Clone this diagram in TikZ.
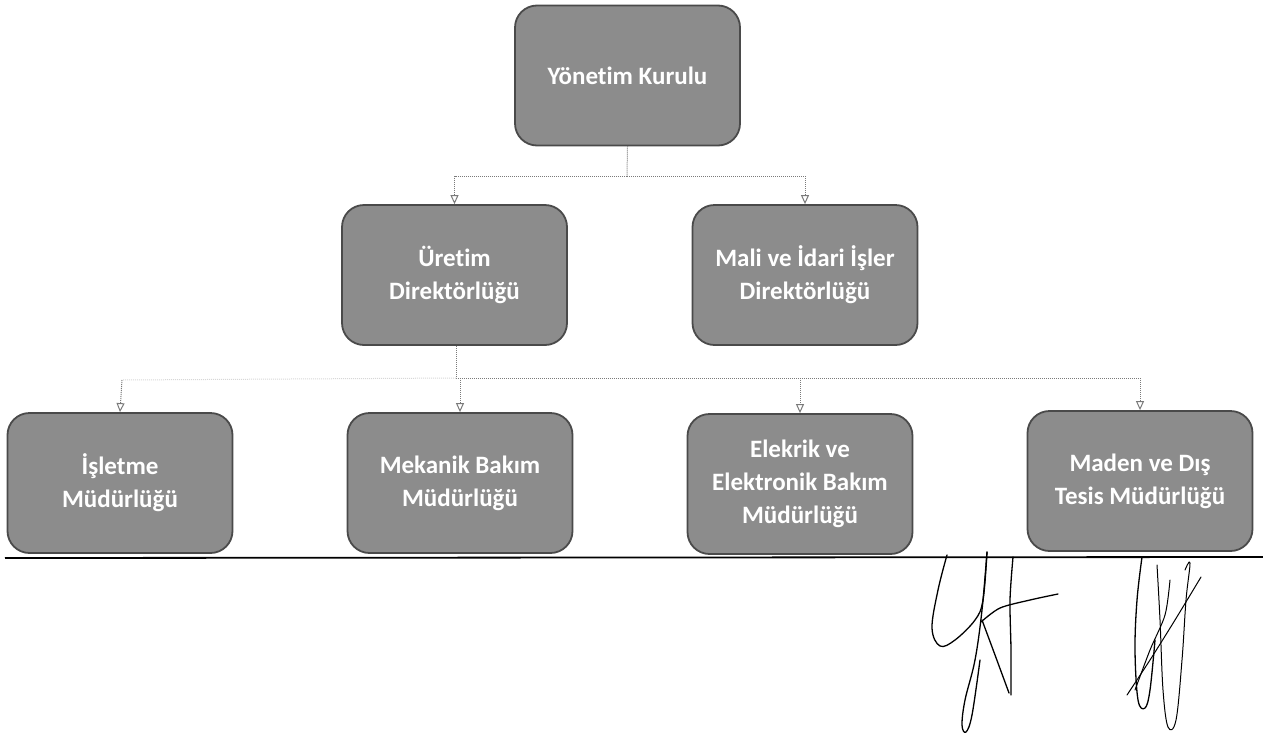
\documentclass[tikz,border=0pt]{standalone}
\usepackage{fontspec}
\setmainfont{Carlito}[Ligatures=CommonOff]
\usetikzlibrary{arrows.meta}
\definecolor{boxfill}{HTML}{8C8C8C}
\definecolor{boxline}{HTML}{4A4A4A}
\definecolor{conn}{HTML}{7A7A7A}
\tikzset{
  orgbox/.style={draw=boxline, line width=1.8pt, fill=boxfill, rounded corners=22pt,
    minimum width=225pt, minimum height=140pt, text=white, align=center,
    font=\fontsize{25}{33}\selectfont\bfseries, inner sep=4pt},
  link/.style={draw=conn, densely dotted, line width=1pt},
  arr/.style={link, -{Triangle[open, length=9pt, width=8pt]}},
  sig/.style={draw=black, line width=1.3pt, line cap=round, line join=round}
}
\begin{document}
\begin{tikzpicture}[x=1pt,y=-1pt]
\useasboundingbox (0,0) rectangle (1263,734);
\node[orgbox] (yk) at (627.5,75.5) {Yönetim Kurulu};
\node[orgbox] (ur) at (454.5,275) {Üretim\\Direktörlüğü};
\node[orgbox] (mi) at (805,275) {Mali ve İdari İşler\\Direktörlüğü};
\node[orgbox] (is) at (120,483) {İşletme\\Müdürlüğü};
\node[orgbox] (me) at (460,483) {Mekanik Bakım\\Müdürlüğü};
\node[orgbox] (el) at (800,484) {Elekrik ve\\Elektronik Bakım\\Müdürlüğü};
\node[orgbox] (ma) at (1140,481) {Maden ve Dış\\Tesis Müdürlüğü};
% level 1 connectors
\coordinate (b1) at (627,176);
\draw[link] (yk.south) -- (b1);
\draw[arr] (b1) -| (ur.north);
\draw[arr] (b1) -| (mi.north);
% level 2 connectors
\coordinate (b2) at (456,378);
\draw[link] (ur.south -| b2) -- (b2);
\draw[arr] (b2) -| (me.north);
\draw[arr] (b2) -| (el.north);
\draw[arr] (b2) -| (ma.north);
\coordinate (b3) at (122,380);
\draw[link, draw=conn!30] (b2) -- (b3);
\draw[arr] (b3) -- (is.north);
% base line
\coordinate (l1) at (5,558);
\coordinate (l2) at (1263,557);
\draw[black, line width=1.8pt] (l1) -- (l2);
% signatures
\draw[sig] plot[smooth, tension=0.6] coordinates {(947,555) (938,590) (932,628) (940,646) (955,640) (975,620) (983,600) (987,552)};
\draw[sig] plot[smooth, tension=0.6] coordinates {(987,552) (982,610) (975,660) (965,700) (962,725) (966,732) (972,715) (980,660)};
\draw[sig] plot[smooth, tension=0.5] coordinates {(1013,557) (1010,600) (1011,650) (1011,695)};
\draw[sig] plot[smooth, tension=0.5] coordinates {(982,620) (995,655) (1009,693)};
\draw[sig] plot[smooth, tension=0.5] coordinates {(981,622) (1000,608) (1030,600) (1058,594)};
\draw[sig] plot[smooth, tension=0.6] coordinates {(1142,557) (1137,600) (1135,650) (1138,700) (1145,708) (1150,690) (1155,640)};
\draw[sig, line width=1pt] plot[smooth, tension=0.6] coordinates {(1157,565) (1160,620) (1163,690) (1168,727) (1176,720) (1182,660) (1186,600) (1190,563) (1185,570)};
\draw[sig, line width=1pt] plot[smooth, tension=0.5] coordinates {(1127,695) (1150,660) (1175,620) (1201,577)};
\draw[sig, line width=1pt] plot[smooth, tension=0.5] coordinates {(1135,690) (1150,650) (1165,615) (1170,580)};
\end{tikzpicture}
\end{document}
